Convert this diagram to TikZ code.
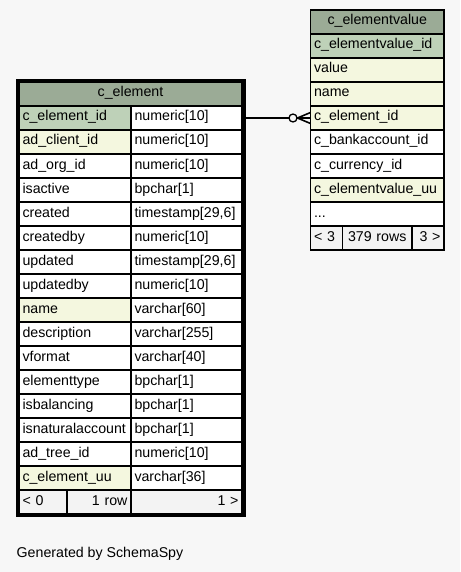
\documentclass[tikz,border=0pt]{standalone}
\usepackage{fontspec}
\setmainfont{Liberation Sans}
\usetikzlibrary{calc}
\definecolor{bgc}{HTML}{F7F7F7}
\definecolor{headc}{HTML}{9BAB96}
\definecolor{pkc}{HTML}{BED1B8}
\definecolor{ixc}{HTML}{F4F7DF}
\definecolor{footc}{HTML}{F3F3F3}
\tikzset{
  cell/.style={draw=black, line width=1.2pt, anchor=north west, minimum height=24pt,
    inner xsep=3.5pt, inner ysep=0pt, outer sep=0pt, align=left, text height=10pt, text depth=4pt,
    font=\fontsize{14.2}{17}\selectfont},
  ca/.style={cell, text width=105pt, minimum width=112pt},
  cb/.style={cell, text width=104pt, minimum width=111pt},
  va/.style={cell, text width=126.5pt, minimum width=133.5pt},
  head/.style={cell, fill=headc, align=center},
  pk/.style={fill=pkc},
  ix/.style={fill=ixc},
  wt/.style={fill=white},
  ft/.style={fill=footc},
  conn/.style={line width=1.3pt, draw=black}
}
\begin{document}
\begin{tikzpicture}[x=1pt,y=-1pt]
\fill[bgc] (0,0) rectangle (460,572);
\useasboundingbox (0,0) rectangle (460,572);

% ---- c_element ----
\node[head, text width=216pt, minimum width=223pt] (etitle) at (19,82) {c\_element};
\node[ca,pk] (e1a) at (19,106) {c\_element\_id};      \node[cb,wt] (e1b) at (131,106) {numeric[10]};
\node[ca,ix] (e2a) at (19,130) {ad\_client\_id};      \node[cb,wt] (e2b) at (131,130) {numeric[10]};
\node[ca,wt] (e3a) at (19,154) {ad\_org\_id};         \node[cb,wt] (e3b) at (131,154) {numeric[10]};
\node[ca,wt] (e4a) at (19,178) {isactive};            \node[cb,wt] (e4b) at (131,178) {bpchar[1]};
\node[ca,wt] (e5a) at (19,202) {created};             \node[cb,wt] (e5b) at (131,202) {timestamp[29,6]};
\node[ca,wt] (e6a) at (19,226) {createdby};           \node[cb,wt] (e6b) at (131,226) {numeric[10]};
\node[ca,wt] (e7a) at (19,250) {updated};             \node[cb,wt] (e7b) at (131,250) {timestamp[29,6]};
\node[ca,wt] (e8a) at (19,274) {updatedby};           \node[cb,wt] (e8b) at (131,274) {numeric[10]};
\node[ca,ix] (e9a) at (19,298) {name};                \node[cb,wt] (e9b) at (131,298) {varchar[60]};
\node[ca,wt] (e10a) at (19,322) {description};       \node[cb,wt] (e10b) at (131,322) {varchar[255]};
\node[ca,wt] (e11a) at (19,346) {vformat};           \node[cb,wt] (e11b) at (131,346) {varchar[40]};
\node[ca,wt] (e12a) at (19,370) {elementtype};       \node[cb,wt] (e12b) at (131,370) {bpchar[1]};
\node[ca,wt] (e13a) at (19,394) {isbalancing};       \node[cb,wt] (e13b) at (131,394) {bpchar[1]};
\node[ca,wt] (e14a) at (19,418) {isnaturalaccount};  \node[cb,wt] (e14b) at (131,418) {bpchar[1]};
\node[ca,wt] (e15a) at (19,442) {ad\_tree\_id};       \node[cb,wt] (e15b) at (131,442) {numeric[10]};
\node[ca,ix] (e16a) at (19,466) {c\_element\_uu};     \node[cb,wt] (e16b) at (131,466) {varchar[36]};
\node[cell,ft, text width=41pt, minimum width=48pt] (ef1) at (19,490) {< 0};
\node[cell,ft, text width=57pt, minimum width=64pt, align=right] (ef2) at (67,490) {1 row};
\node[cb,ft, align=right] (ef3) at (131,490) {1 >};
\node[draw, line width=3pt, minimum width=226.5pt, minimum height=435pt, anchor=north west, inner sep=0pt, outer sep=0pt] (ce) at (17.5,80.5) {};

% ---- c_elementvalue ----
\node[head, text width=126.5pt, minimum width=133.5pt] (vtitle) at (310.5,10) {c\_elementvalue};
\node[va,pk] (v1) at (310.5,34) {c\_elementvalue\_id};
\node[va,ix] (v2) at (310.5,58) {value};
\node[va,ix] (v3) at (310.5,82) {name};
\node[va,ix] (v4) at (310.5,106) {c\_element\_id};
\node[va,wt] (v5) at (310.5,130) {c\_bankaccount\_id};
\node[va,wt] (v6) at (310.5,154) {c\_currency\_id};
\node[va,ix] (v7) at (310.5,178) {c\_elementvalue\_uu};
\node[va,wt] (v8) at (310.5,202) {...};
\node[cell,ft, text width=25pt, minimum width=32pt] (vf1) at (310.5,226) {< 3};
\node[cell,ft, text width=62.5pt, minimum width=69.5pt, align=center] (vf2) at (342.5,226) {379 rows};
\node[cell,ft, text width=25pt, minimum width=32pt, align=right] (vf3) at (412,226) {3 >};

% ---- connector ----
\node[circle, draw=black, line width=1.3pt, minimum size=8pt, inner sep=0pt, outer sep=0pt] (circ) at (293,118) {};
\coordinate (apex) at (297.5,118);
\draw[conn] (e1b.east) -- (circ.west);
\draw[conn] (circ.east) -- (v4.west);
\draw[conn, line width=1.6pt] (apex) -- ($(v4.west)+(0,-5.5)$);
\draw[conn, line width=1.6pt] (apex) -- ($(v4.west)+(0,5.5)$);

\node[anchor=base west, inner sep=0pt, font=\fontsize{14.2}{17}\selectfont] (gen) at (16.5,557.5) {Generated by SchemaSpy};
\end{tikzpicture}
\end{document}
